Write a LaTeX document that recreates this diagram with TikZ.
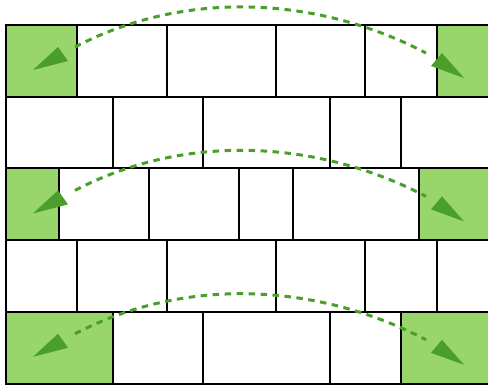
\documentclass[tikz,border=0pt]{standalone}
\definecolor{cellgreen}{RGB}{152,214,107}
\definecolor{arrowgreen}{RGB}{74,158,42}
\begin{document}
\begin{tikzpicture}[x=1pt,y=-1pt,
  wall/.style={line width=2pt, black, line cap=rect},
  greencell/.style={fill=cellgreen},
  swaparc/.style={arrowgreen, line width=3pt, dash pattern=on 6.5pt off 5.5pt},
  tiphead/.style={fill=arrowgreen}]
\useasboundingbox (0,0) rectangle (488,385);
\clip (0,0) rectangle (488,385);
% green cells
\fill[greencell] (6,25) rectangle (77,96.7);
\fill[greencell] (437,25) rectangle (492,96.7);
\fill[greencell] (6,168.4) rectangle (59,240.1);
\fill[greencell] (419,168.4) rectangle (492,240.1);
\fill[greencell] (6,311.8) rectangle (113,383.5);
\fill[greencell] (401,311.8) rectangle (492,383.5);
% horizontal joints
\foreach \y in {25,96.7,168.4,240.1,311.8,383.5}
  \draw[wall] (6,\y) -- (492,\y);
% vertical joints
\foreach \x in {6,77,167,276,365,437} {
  \draw[wall] (\x,25) -- (\x,96.7);
  \draw[wall] (\x,240.1) -- (\x,311.8);
}
\foreach \x in {6,113,203,330,401} {
  \draw[wall] (\x,96.7) -- (\x,168.4);
  \draw[wall] (\x,311.8) -- (\x,383.5);
}
\foreach \x in {6,59,149,239,293,419}
  \draw[wall] (\x,168.4) -- (\x,240.1);
% swap arcs
\foreach \k in {0,1,2} {
  \pgfmathsetmacro{\yo}{143.4*\k}
  \coordinate (s\k) at (75,47+\yo);
  \coordinate (e\k) at (426,53+\yo);
  \draw[swaparc] (s\k) .. controls (184.6,-10.3+\yo) and (316.4,-4.3+\yo) .. (e\k);
  \fill[tiphead] (33,70+\yo) -- (58,47+\yo) -- (68,61+\yo) -- cycle;
  \fill[tiphead] (464,78+\yo) -- (431,66+\yo) -- (442,53+\yo) -- cycle;
}
\end{tikzpicture}
\end{document}
